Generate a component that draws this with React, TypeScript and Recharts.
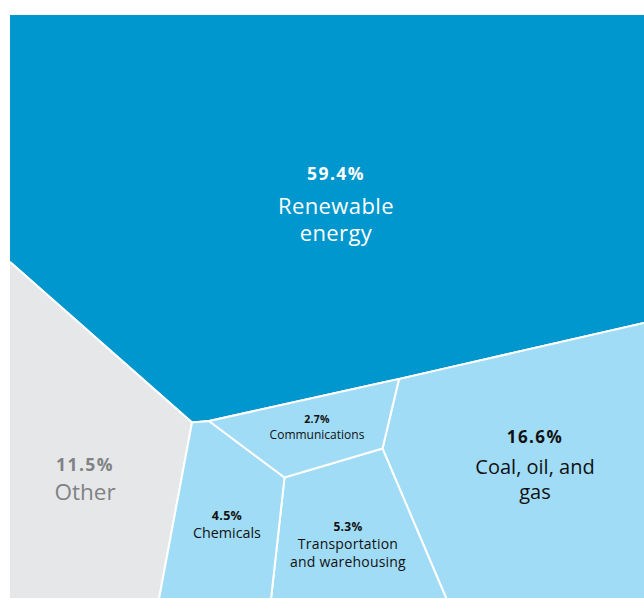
import { Area, ComposedChart, Scatter, XAxis, YAxis } from "recharts"

// Shares of total (percent), largest first
const categories = [
  "Renewable energy",
  "Coal, oil, and gas",
  "Other",
  "Transportation and warehousing",
  "Chemicals",
  "Communications",
]
const shares = [59.4, 16.6, 11.5, 5.3, 4.5, 2.7]
const labelLines = [
  ["Renewable", "energy"],
  ["Coal, oil, and", "gas"],
  ["Other"],
  ["Transportation", "and warehousing"],
  ["Chemicals"],
  ["Communications"],
]

// Voronoi cell outlines on a 634 x 585 grid: x -> [lower edge, upper edge]
const cellOutlines = [
  [[0, 0, 248], [182, 0, 408.5], [199, 0, 407], [389, 0, 365], [634, 0, 309]],
  [[372.5, 434.5, 434.5], [389, 365, 473.3], [436.5, 354.1, 585], [634, 309, 585]],
  [[0, 248, 585], [149, 379.4, 585], [182, 408.5, 408.5]],
  [[261, 585, 585], [274.5, 463.5, 585], [372.5, 434.5, 585], [436.5, 585, 585]],
  [[149, 585, 585], [182, 408.5, 585], [199, 407, 585], [261, 453.4, 585], [274.5, 463.5, 463.5]],
  [[199, 407, 407], [274.5, 390.3, 463.5], [372.5, 368.6, 434.5], [389, 365, 365]],
]
const labelSpots = [
  [326, 159],
  [525, 422],
  [75, 450],
  [338, 512.5],
  [217, 501],
  [307, 405],
]

const fills = ["#0096ce", "#a0dcf6", "#e6e7e8", "#a0dcf6", "#a0dcf6", "#a0dcf6"]
const textColors = ["#ffffff", "#111111", "#808285", "#111111", "#111111", "#111111"]
const pctSizes = [17.5, 17, 17.5, 12, 12.5, 10.5]
const nameSizes = [22, 20, 22.5, 14, 14.3, 12]
const lineGaps = [[32, 59], [30, 55], [27], [17, 34.5], [17], [15]]

const font = "'Open Sans', 'Noto Sans', sans-serif"

const labels = categories.map((name, i) => ({
  name,
  x: labelSpots[i][0],
  y: labelSpots[i][1],
  share: shares[i],
  idx: i,
}))

function CellLabel(props: any) {
  const { cx, cy, payload } = props
  const i = payload.idx
  return (
    <g fontFamily={font} textAnchor="middle" fill={textColors[i]}>
      <text
        x={cx}
        y={cy}
        dominantBaseline="central"
        fontSize={pctSizes[i]}
        fontWeight={700}
        letterSpacing={i < 3 ? 1.4 : 0.3}
      >
        {shares[i].toFixed(1)}%
      </text>
      {labelLines[i].map((line, j) => (
        <text
          key={j}
          x={cx}
          y={cy + lineGaps[i][j]}
          dominantBaseline="central"
          fontSize={nameSizes[i]}
          letterSpacing={i === 0 ? 0.4 : i === 3 ? 0.2 : 0}
        >
          {line}
        </text>
      ))}
    </g>
  )
}

export default function App() {
  return (
    <div style={{ position: "absolute", left: 0, top: 0 }}>
      <ComposedChart width={644} height={599} margin={{ top: 14, right: 0, bottom: 0, left: 10 }}>
        <XAxis type="number" dataKey="x" domain={[0, 634]} hide allowDataOverflow />
        <YAxis type="number" domain={[0, 585]} reversed hide allowDataOverflow />
        {cellOutlines.map((outline, i) => (
          <Area
            key={categories[i]}
            data={outline.map(([x, lo, hi]) => ({ x, range: [lo, hi] }))}
            dataKey="range"
            type="linear"
            fill={fills[i]}
            fillOpacity={1}
            stroke="#ffffff"
            strokeWidth={2}
            dot={false}
            activeDot={false}
            isAnimationActive={false}
          />
        ))}
        <Scatter data={labels} dataKey="y" shape={<CellLabel />} isAnimationActive={false} />
      </ComposedChart>
    </div>
  )
}
